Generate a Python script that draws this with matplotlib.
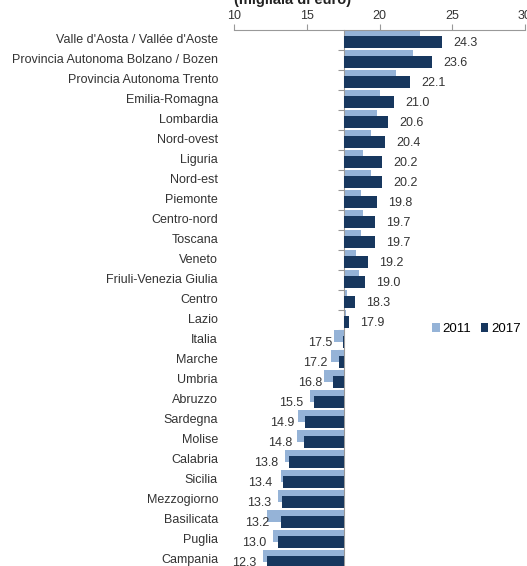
import matplotlib
matplotlib.use("Agg")
import matplotlib.pyplot as plt
import matplotlib.transforms as mtransforms
from matplotlib.ticker import FixedLocator

plt.rcParams['font.family'] = ['Liberation Sans', 'DejaVu Sans']

categories = ["Valle d'Aosta / Vallée d'Aoste", "Provincia Autonoma Bolzano / Bozen",
              "Provincia Autonoma Trento", "Emilia-Romagna", "Lombardia", "Nord-ovest",
              "Liguria", "Nord-est", "Piemonte", "Centro-nord", "Toscana", "Veneto",
              "Friuli-Venezia Giulia", "Centro", "Lazio", "Italia", "Marche", "Umbria",
              "Abruzzo", "Sardegna", "Molise", "Calabria", "Sicilia", "Mezzogiorno",
              "Basilicata", "Puglia", "Campania"]
v2011 = [22.8, 22.3, 21.1, 20.0, 19.8, 19.4, 18.9, 19.4, 18.7, 18.9, 18.7, 18.4,
         18.6, 17.8, 17.7, 16.9, 16.7, 16.2, 15.2, 14.4, 14.3, 13.5, 13.2, 13.0,
         12.3, 12.7, 12.0]
v2017 = [24.3, 23.6, 22.1, 21.0, 20.6, 20.4, 20.2, 20.2, 19.8, 19.7, 19.7, 19.2,
         19.0, 18.3, 17.9, 17.5, 17.2, 16.8, 15.5, 14.9, 14.8, 13.8, 13.4, 13.3,
         13.2, 13.0, 12.3]
xticks = [10, 15, 20, 25, 30]
baseline = 17.55

W, H = 527, 566
fig = plt.figure(figsize=(W / 100, H / 100), dpi=100)
left, right, top = 234, 525, 30
n = len(categories)
height_px = n * 20
ax = fig.add_axes([left / W, 1 - (top + height_px) / H, (right - left) / W, height_px / H])

light = '#95B3D7'
dark = '#17375E'
ypos = list(range(n))
ax.barh([y - 0.2 for y in ypos], [a - baseline for a in v2011], left=baseline,
        height=0.6, color=light, label='2011', zorder=2)
ax.barh([y + 0.1 for y in ypos], [b - baseline for b in v2017], left=baseline,
        height=0.6, color=dark, label='2017', zorder=3)

ax.set_xlim(10, 30)
ax.set_ylim(n - 0.5, -0.5)

for y, b in zip(ypos, v2017):
    if b >= baseline:
        ax.annotate(f"{b:.1f}", (b, y + 0.15), xytext=(8, 0), textcoords='offset points',
                    ha='left', va='center', fontsize=9, color='#333333')
    else:
        ax.annotate(f"{b:.1f}", (b, y + 0.15), xytext=(-8, 0), textcoords='offset points',
                    ha='right', va='center', fontsize=9, color='#333333')

trans = mtransforms.blended_transform_factory(fig.transFigure, ax.transData)
for y, c in zip(ypos, categories):
    ax.text(218 / W, y, c, transform=trans, ha='right', va='center',
            fontsize=9, color='#333333')

# axes styling
ax.xaxis.tick_top()
ax.set_xticks(xticks)
ax.set_xticklabels([str(t) for t in xticks], fontsize=9, color='#333333')
ax.tick_params(axis='x', direction='out', length=4, color='#999999', pad=2)
ax.spines['top'].set_color('#999999')
ax.spines['bottom'].set_visible(False)
ax.spines['right'].set_visible(False)
ax.spines['left'].set_position(('data', baseline))
ax.spines['left'].set_color('#999999')
ax.yaxis.set_major_locator(FixedLocator([y + 0.5 for y in ypos]))
ax.tick_params(axis='y', direction='out', length=4, color='#999999', labelleft=False)
ax.set_facecolor('none')

fig.text(293 / W, 1 - 4 / H, "(migliaia di euro)", ha='center', va='baseline',
         fontsize=10.5, fontweight='bold', color='#222222')

fig.legend(loc='center left', bbox_to_anchor=(432 / W, 1 - 329 / H), ncol=2,
           frameon=False, fontsize=9.5, handlelength=0.6, handleheight=0.6,
           handletextpad=0.2, columnspacing=0.7, borderaxespad=0, borderpad=0)

fig.savefig('out.png', dpi=100)
